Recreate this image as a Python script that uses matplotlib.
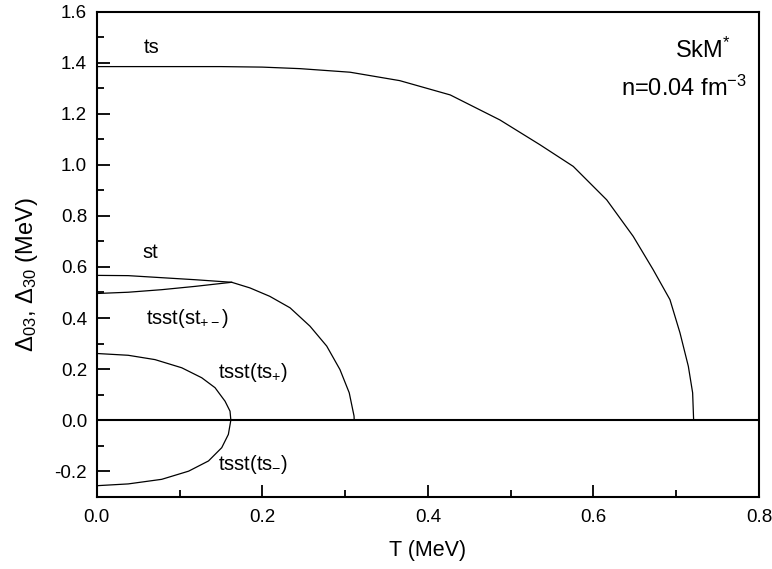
import numpy as np
import matplotlib
matplotlib.use("Agg")
import matplotlib.pyplot as plt
from matplotlib.ticker import MultipleLocator

plt.rcParams['font.family'] = ['Liberation Sans', 'DejaVu Sans']
plt.rcParams['mathtext.fontset'] = 'custom'
plt.rcParams['mathtext.rm'] = 'Liberation Sans'
plt.rcParams['mathtext.it'] = 'Liberation Sans:italic'
plt.rcParams['mathtext.bf'] = 'Liberation Sans:bold'

# ts gap
ts_T = [0.0, 0.15, 0.20, 0.2455, 0.306, 0.366, 0.427, 0.487, 0.5353, 0.5756,
        0.616, 0.648, 0.672, 0.6924, 0.7045, 0.7146, 0.7198, 0.7210]
ts_D = [1.385, 1.385, 1.383, 1.377, 1.363, 1.330, 1.274, 1.176, 1.079, 0.994,
        0.863, 0.720, 0.590, 0.472, 0.342, 0.211, 0.107, 0.0]

# st gap (upper branch up to the meeting point, then common branch)
st_T = [0.0, 0.038, 0.0785, 0.119, 0.163, 0.185, 0.209, 0.2335, 0.2576,
        0.2778, 0.2938, 0.305, 0.3108, 0.311]
st_D = [0.567, 0.566, 0.558, 0.550, 0.540, 0.518, 0.485, 0.440, 0.368,
        0.290, 0.198, 0.107, 0.016, 0.0]

# tsst(st+-) lower branch
stpm_T = [0.0, 0.038, 0.0785, 0.119, 0.163]
stpm_D = [0.496, 0.501, 0.511, 0.524, 0.540]

# tsst(ts+) and tsst(ts-)
tsp_T = [0.0, 0.038, 0.0704, 0.1027, 0.1268, 0.1429, 0.155, 0.161, 0.162]
tsp_D = [0.261, 0.254, 0.237, 0.205, 0.166, 0.127, 0.074, 0.035, 0.0]
tsm_T = [0.162, 0.159, 0.151, 0.135, 0.111, 0.0785, 0.038, 0.0]
tsm_D = [0.0, -0.056, -0.108, -0.160, -0.200, -0.232, -0.250, -0.257]

fig = plt.figure(figsize=(7.72, 5.69), dpi=100)
ax = fig.add_axes([0.1253, 0.1271, 0.8579, 0.8523])

lw = 0.9
for T, D in [(ts_T, ts_D), (st_T, st_D), (stpm_T, stpm_D),
             (tsp_T, tsp_D), (tsm_T, tsm_D)]:
    ax.plot(T, D, color='black', lw=lw, solid_joinstyle='round')
ax.axhline(0.0, color='black', lw=1.5)

ax.set_xlim(0.0, 0.8)
ax.set_ylim(-0.3, 1.6)
ax.xaxis.set_major_locator(MultipleLocator(0.2))
ax.xaxis.set_minor_locator(MultipleLocator(0.1))
ax.yaxis.set_major_locator(MultipleLocator(0.2))
ax.yaxis.set_minor_locator(MultipleLocator(0.1))
ax.tick_params(which='both', direction='in', top=False, right=False,
               width=1.3, labelsize=13.5)
ax.tick_params(which='major', length=9)
ax.tick_params(axis='x', which='major', pad=9)
ax.tick_params(axis='y', which='major', pad=7)
ax.tick_params(which='minor', length=5)
ax.xaxis.set_major_formatter(plt.FuncFormatter(lambda v, p: f"{v:.1f}"))
ax.yaxis.set_major_formatter(plt.FuncFormatter(lambda v, p: f"{v:.1f}"))
for s in ax.spines.values():
    s.set_linewidth(1.5)

ax.set_xlabel('T (MeV)', fontsize=15.5, labelpad=10)
ax.set_ylabel(r'$\Delta_{03}$, $\Delta_{30}$ (MeV)', fontsize=17)
ax.yaxis.set_label_coords(-0.086, 0.458)

fs = 14.5
ax.text(0.066, 1.46, 'ts', fontsize=fs, ha='center', va='center')
ax.text(0.065, 0.655, 'st', fontsize=fs, ha='center', va='center')
ax.text(0.109, 0.40, r'tsst(st$_{\mathregular{+-}}$)', fontsize=fs, ha='center', va='center')
ax.text(0.146, 0.187, r'tsst(ts$_{\mathregular{+}}$)', fontsize=fs, ha='left', va='center')
ax.text(0.147, -0.173, r'tsst(ts$_{\mathregular{-}}$)', fontsize=fs, ha='left', va='center')
ax.text(0.766, 1.45, r'SkM$^{*}$', fontsize=17, ha='right', va='center')
ax.text(0.785, 1.30, r'n=0.04 fm$^{\mathregular{-3}}$', fontsize=17, ha='right', va='center')

fig.savefig('out.png', dpi=100)
